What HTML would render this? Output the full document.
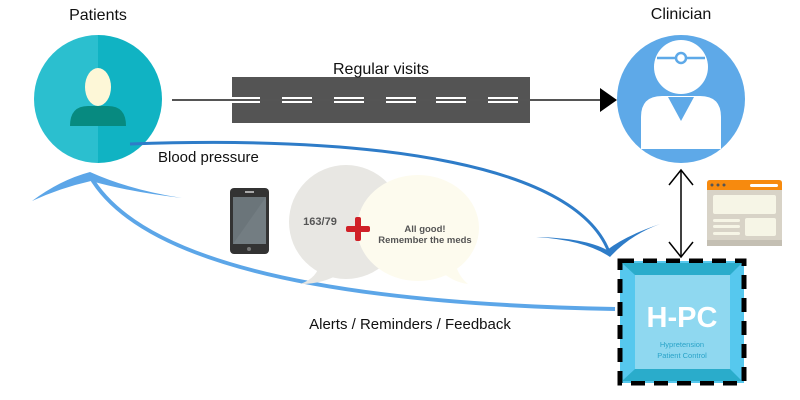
<!DOCTYPE html>
<html><head><style>body{margin:0;background:#fff}svg{display:block}text{font-family:"Liberation Sans",sans-serif}</style></head><body>
<svg width="800" height="400" viewBox="0 0 800 400" xmlns="http://www.w3.org/2000/svg">
<text x="98" y="20" font-size="16" text-anchor="middle" fill="#111">Patients</text>
<text x="681" y="19" font-size="16" text-anchor="middle" fill="#111">Clinician</text>
<!-- patient -->
<path d="M98,35 A64,64 0 0 0 98,163 Z" fill="#2bbfcf"/>
<path d="M98,35 A64,64 0 0 1 98,163 Z" fill="#10b3c3"/>
<path d="M70,126 Q70,106 88,106 L108,106 Q126,106 126,126 Z" fill="#078a80"/>
<ellipse cx="98" cy="87" rx="13" ry="19" fill="#fdf7d7"/>
<!-- road -->
<rect x="232" y="77" width="298" height="46" fill="#545454"/>
<line x1="172" y1="100" x2="602" y2="100" stroke="#555" stroke-width="2"/>
<g stroke="#fff" stroke-width="2">
<path d="M232,98h28M232,102h28M282,98h30M282,102h30M334,98h30M334,102h30M386,98h30M386,102h30M436,98h30M436,102h30M488,98h30M488,102h30"/>
</g>
<polygon points="600,88 617,100 600,112" fill="#000"/>
<text x="381" y="74" font-size="16" text-anchor="middle" fill="#111">Regular visits</text>
<!-- clinician -->
<circle cx="681" cy="99" r="64" fill="#5ea9e8"/>
<circle cx="681" cy="67" r="27" fill="#fff"/>
<path d="M641,149 L641,117 Q641,96 662,96 L700,96 Q721,96 721,117 L721,149 Z" fill="#fff"/>
<polygon points="668,97 694,97 681,121" fill="#5ea9e8"/>
<path d="M657,58 L705,58" stroke="#5ea9e8" stroke-width="2.5"/>
<circle cx="681" cy="58" r="5" fill="#fff" stroke="#5ea9e8" stroke-width="2.5"/>
<!-- double arrow -->
<line x1="681" y1="170" x2="681" y2="257" stroke="#000" stroke-width="1.5"/>
<path d="M669,185 L681,170 L693,185 M669,242 L681,257 L693,242" fill="none" stroke="#000" stroke-width="1.5"/>
<!-- browser -->
<rect x="707" y="180" width="75" height="66" rx="3" fill="#d8d3c7"/>
<path d="M707,190 V183 Q707,180 710,180 H779 Q782,180 782,183 V190 Z" fill="#f78a0e"/>
<circle cx="712" cy="185" r="1.5" fill="#555"/><circle cx="718" cy="185" r="1.5" fill="#555"/><circle cx="724" cy="185" r="1.5" fill="#555"/>
<rect x="750" y="184" width="28" height="3" rx="1.5" fill="#fff"/>
<rect x="713" y="195" width="63" height="19" rx="2" fill="#f6f5e6"/>
<rect x="745" y="218" width="31" height="18" rx="2" fill="#f6f5e6"/>
<rect x="713" y="219" width="27" height="3" rx="1.5" fill="#f6f5e6"/>
<rect x="713" y="225" width="27" height="3" rx="1.5" fill="#f6f5e6"/>
<rect x="713" y="232" width="27" height="3" rx="1.5" fill="#f6f5e6"/>
<rect x="707" y="240" width="75" height="6" fill="#c4bfb3"/>
<!-- HPC -->
<rect x="620" y="261" width="124" height="122" fill="#56c8ee" stroke="#000" stroke-width="5" stroke-dasharray="14,9"/>
<polygon points="622,263 742,263 730,275 635,275" fill="#2aaccb"/>
<polygon points="622,381 742,381 730,369 635,369" fill="#2aaccb"/>
<rect x="635" y="275" width="95" height="94" fill="#8fd8f0"/>
<text x="682" y="327" font-size="29" font-weight="bold" text-anchor="middle" fill="#fff">H-PC</text>
<text x="682" y="347" font-size="7.5" text-anchor="middle" fill="#2aa3c8">Hypretension</text>
<text x="682" y="358" font-size="7.5" text-anchor="middle" fill="#2aa3c8">Patient Control</text>
<!-- blood pressure curve -->
<path d="M130,144 C380,135 580,165 610,255" fill="none" stroke="#2e7cc8" stroke-width="3"/>
<path d="M536,237 Q585,240 610,257 Q630,235 660,224 Q625,236 607,250 Q585,238 536,237 Z" fill="#2e7cc8"/>
<text x="158" y="162" font-size="15" fill="#111">Blood pressure</text>
<!-- alerts curve -->
<path d="M615,309 C400,305 150,280 90,176" fill="none" stroke="#5ca6e8" stroke-width="4"/>
<path d="M32,201 Q60,180 90,172 Q130,190 182,198 Q130,192 91,181 Q60,188 32,201 Z" fill="#5ca6e8"/>
<text x="410" y="329" font-size="15" text-anchor="middle" fill="#111">Alerts / Reminders / Feedback</text>
<!-- phone -->
<rect x="230" y="188" width="39" height="66" rx="4" fill="#333"/>
<rect x="233" y="197" width="33" height="47" fill="#6b757a"/>
<polygon points="266,197 266,244 233,244" fill="#737d82"/>
<rect x="245" y="191" width="9" height="2" fill="#aaa"/>
<circle cx="249" cy="249" r="2" fill="#777"/>
<!-- bubbles -->
<circle cx="346" cy="222" r="57" fill="#e8e7e3"/>
<path d="M300,284 Q318,278 320,262 L342,272 Q325,284 300,284 Z" fill="#e8e7e3"/>
<ellipse cx="418" cy="228" rx="61" ry="53" fill="#fdfbee"/>
<path d="M468,284 Q452,282 440,270 L455,262 Q458,276 468,284 Z" fill="#fdfbee"/>
<text x="320" y="225" font-size="11" font-weight="bold" text-anchor="middle" fill="#555">163/79</text>
<rect x="346" y="226" width="24" height="6" rx="2" fill="#d02027"/>
<rect x="355" y="217" width="6" height="24" rx="2" fill="#d02027"/>
<text x="425" y="232" font-size="9.5" font-weight="bold" text-anchor="middle" fill="#555">All good!</text>
<text x="425" y="243" font-size="9.5" font-weight="bold" text-anchor="middle" fill="#555">Remember the meds</text>
</svg>
</body></html>
